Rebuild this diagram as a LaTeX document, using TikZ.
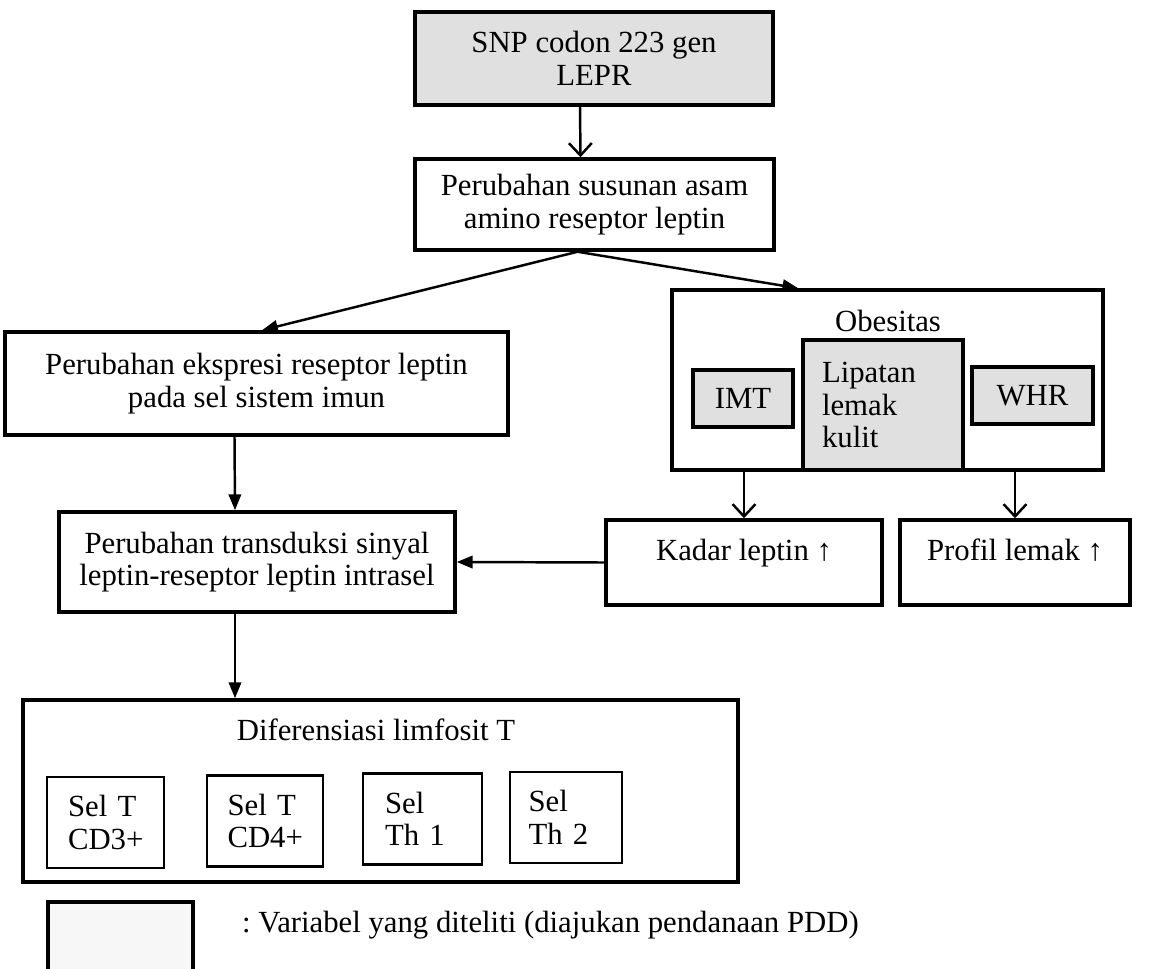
\documentclass[tikz,border=0pt]{standalone}
\usepackage{fontspec}
\setmainfont{Liberation Serif}
\usetikzlibrary{arrows.meta,calc}
\frenchspacing

\begin{document}
\begin{tikzpicture}[
  x=0.02cm, y=-0.02cm,
  font=\fontsize{17.5}{18.5}\selectfont,
  box/.style   = {rectangle, draw=black, line width=2pt, align=center, inner sep=2pt},
  var/.style   = {box, fill=black!12},
  cell/.style  = {rectangle, draw=black, line width=1.6pt, align=left,
                  minimum height=1.82cm, text width=1.5cm},
  res/.style   = {box, minimum height=1.7cm, text height=0.7cm, text depth=0.8cm},
  arr/.style   = {-{Triangle[length=9pt,width=7pt]}, line width=1.4pt},
  arrv/.style  = {-{Straight Barb[length=7pt,width=13pt]}, line width=1.4pt}
]
\useasboundingbox (0,0) rectangle (1166,969);

%% Gen dan reseptor
\node[var, minimum width=7.16cm, minimum height=1.86cm] (snp)     at (594,58.5)  {SNP codon 223 gen\\LEPR};
\node[box, minimum width=7.18cm, minimum height=1.82cm] (susunan) at (594.5,204.5) {Perubahan susunan asam\\amino reseptor leptin};

%% Cabang kiri
\node[box, minimum width=10.06cm, minimum height=2.06cm] (ekspresi)   at (256.5,383.5) {Perubahan ekspresi reseptor leptin\\pada sel sistem imun};
\node[box, minimum width=7.92cm, minimum height=2.0cm]   (transduksi) at (257,562)     {Perubahan transduksi sinyal\\leptin-reseptor leptin intrasel};

%% Obesitas
\node[box, minimum width=8.62cm, minimum height=3.6cm] (obes) at (887.5,380) {};
\node[anchor=base] (obestitle) at (888,332) {Obesitas};
\node[var, minimum width=2.0cm, minimum height=1.14cm]  (imt)     at (743,398.5)  {IMT};
\node[var, minimum width=3.2cm, minimum height=2.6cm, text width=2.44cm, align=left] (lipatan) at (883,405) {Lipatan\\lemak\\kulit};
\node[var, minimum width=2.42cm, minimum height=1.14cm] (whr)     at (1032.5,395.5) {WHR};

%% Hasil
\node[res, minimum width=5.52cm] (kadar)  at (744,562.5)  {Kadar leptin ↑};
\node[res, minimum width=4.6cm]  (profil) at (1015,562.5) {Profil lemak ↑};

%% Diferensiasi limfosit T
\node[box, minimum width=14.3cm, minimum height=3.64cm] (diff) at (380.5,791) {};
\node[anchor=base] (difftitle) at (376,740) {Diferensiasi limfosit T};
\node[cell, minimum width=2.34cm] (cdtiga)  at (105.5,822.5) {Sel T\\CD3+};
\node[cell, minimum width=2.32cm] (cdempat) at (265,821)     {Sel T\\CD4+};
\node[cell, minimum width=2.38cm] (thsatu)  at (422.5,819)   {Sel\\Th 1};
\node[cell, minimum width=2.24cm] (thdua)   at (566,817.5)   {Sel\\Th 2};

%% Keterangan
\node[var, fill=black!3, minimum width=2.9cm, minimum height=1.4cm] (legend) at (120.5,937) {};
\node[anchor=base west] (legtext) at (236,932) {: Variabel yang diteliti (diajukan pendanaan PDD)};

%% Panah
\draw[arrv] ([xshift=-0.28cm]snp.south) -- ([xshift=-0.28cm]susunan.north);
\coordinate (split) at ($(susunan.south)+(-17,0)$);
\draw[arr] (split) -- ($(ekspresi.north)+(5.5,0)$);
\draw[arr] (split) -- ($(obes.north west)+(128,0)$);
\draw[arr] ($(ekspresi.south)+(-22,0)$) -- ($(transduksi.north)+(-22,0)$);
\draw[arr] (kadar.west) -- (transduksi.east);
\draw[arr] ($(transduksi.south)+(-22,0)$) coordinate (td) -- (td |- diff.north);
\draw[arrv] (kadar.north |- obes.south)  -- (kadar.north);
\draw[arrv] (profil.north |- obes.south) -- (profil.north);
\end{tikzpicture}
\end{document}
